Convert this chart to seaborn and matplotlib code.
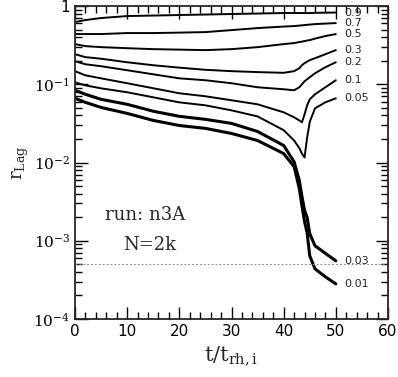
import matplotlib
matplotlib.use("Agg")
import matplotlib.pyplot as plt
import numpy as np
import pandas as pd
import seaborn as sns

# time grid (t / t_rh,i) and Lagrangian radii
t = [0, 2, 5, 10, 15, 20, 25, 30, 35, 40, 42, 43, 43.5, 44, 44.5, 45, 46, 48, 50]

r90 = [0.624, 0.661, 0.702, 0.744, 0.755, 0.767, 0.778, 0.790, 0.801, 0.813,
       0.813, 0.813, 0.813, 0.813, 0.813, 0.813, 0.818, 0.822, 0.825]
r70 = [0.438, 0.438, 0.438, 0.451, 0.451, 0.457, 0.464, 0.492, 0.522, 0.546,
       0.554, 0.562, 0.566, 0.570, 0.575, 0.579, 0.587, 0.596, 0.605]
r50 = [0.326, 0.307, 0.298, 0.289, 0.281, 0.277, 0.273, 0.281, 0.298, 0.326,
       0.336, 0.346, 0.351, 0.356, 0.362, 0.367, 0.383, 0.413, 0.438]
r30 = [0.242, 0.222, 0.212, 0.191, 0.175, 0.163, 0.153, 0.147, 0.143, 0.140,
       0.147, 0.160, 0.175, 0.186, 0.195, 0.203, 0.215, 0.242, 0.273]
r20 = [0.197, 0.180, 0.170, 0.151, 0.134, 0.119, 0.1125, 0.103, 0.0915, 0.0863,
       0.0838, 0.0915, 0.0998, 0.109, 0.116, 0.123, 0.138, 0.165, 0.191]
r10 = [0.147, 0.130, 0.119, 0.103, 0.0889, 0.0767, 0.0702, 0.0624, 0.0554, 0.0438,
       0.0378, 0.0345, 0.0326, 0.0412, 0.0538, 0.0642, 0.0744, 0.0915, 0.1125]
r05 = [0.106, 0.0967, 0.0887, 0.0790, 0.0681, 0.0587, 0.0538, 0.0464, 0.0388, 0.0259,
       0.0191, 0.0153, 0.0130, 0.0116, 0.0208, 0.0330, 0.0492, 0.0588, 0.0661]
r03 = [0.0838, 0.0744, 0.0642, 0.0554, 0.0452, 0.0389, 0.0356, 0.0316, 0.0249, 0.0165,
       0.0102, 0.00588, 0.00370, 0.00245, 0.00198, 0.00123, 0.000863, 0.000690, 0.000554]
r01 = [0.0661, 0.0587, 0.0505, 0.0424, 0.0345, 0.0297, 0.0273, 0.0235, 0.0191, 0.0130,
       0.00886, 0.00464, 0.00281, 0.00176, 0.00126, 0.000642, 0.000438, 0.000346, 0.000281]

fractions = ["0.9", "0.7", "0.5", "0.3", "0.2", "0.1", "0.05", "0.03", "0.01"]
radii = [r90, r70, r50, r30, r20, r10, r05, r03, r01]

df = pd.concat([pd.DataFrame({"t": t, "r": r, "frac": f})
                for f, r in zip(fractions, radii)], ignore_index=True)

sns.set_style("ticks")
plt.rcParams["font.family"] = ["DejaVu Sans"]
plt.rcParams["mathtext.fontset"] = "dejavuserif"

fig = plt.figure(figsize=(3.98, 3.77), dpi=100)
ax = fig.add_axes([75 / 398, 1 - 319 / 377, 313 / 398, 313 / 377])

# the inner two radii are very noisy in the original, drawn a bit heavier
upper = df[~df["frac"].isin(["0.03", "0.01"])]
inner = df[df["frac"].isin(["0.03", "0.01"])]
sns.lineplot(data=upper, x="t", y="r", units="frac", color="black", lw=1.4,
             sort=False, estimator=None, ax=ax)
sns.lineplot(data=inner, x="t", y="r", units="frac", color="black", lw=2.2,
             sort=False, estimator=None, ax=ax)

ax.axhline(5e-4, color="0.55", lw=0.7, ls=(0, (2, 2)))

ax.set_yscale("log")
ax.set_xlim(0, 60)
ax.set_ylim(1e-4, 1)

ax.set_xticks(range(0, 61, 10))
ax.set_xticks(range(0, 61, 2), minor=True)
ax.set_yticks([1e-4, 1e-3, 1e-2, 1e-1, 1])
ax.set_yticklabels([r"$10^{-4}$", r"$10^{-3}$", r"$10^{-2}$", r"$10^{-1}$", "1"])
ax.yaxis.set_minor_locator(matplotlib.ticker.LogLocator(base=10, subs=np.arange(2, 10)))
ax.yaxis.set_minor_formatter(matplotlib.ticker.NullFormatter())

ax.tick_params(which="both", direction="in", top=True, right=True,
               labelsize=11, width=1.0, colors="black")
ax.tick_params(which="major", length=9)
ax.tick_params(which="minor", length=5)
for s in ax.spines.values():
    s.set_linewidth(1.3)

ax.set_xlabel(r"$\mathrm{t/t_{rh,i}}$", fontsize=15, family="DejaVu Serif", labelpad=4)
ax.set_ylabel(r"$\mathrm{r_{Lag}}$", fontsize=13, family="DejaVu Serif", labelpad=2)

# labels at the end of each curve
for f, r in zip(fractions, radii):
    ax.text(51.6, r[-1], f, fontsize=8, va="center", ha="left")

ax.text(13.4, 2.15e-3, "run: n3A", fontsize=13, family="DejaVu Serif",
        ha="center", va="center")
ax.text(14.4, 8.7e-4, "N=2k", fontsize=13, family="DejaVu Serif",
        ha="center", va="center")

fig.savefig("out.png", dpi=100)
